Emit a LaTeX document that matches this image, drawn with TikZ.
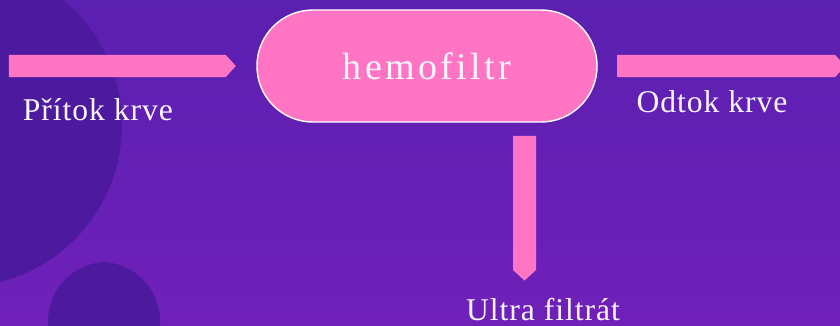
\documentclass[tikz,border=0pt]{standalone}
\usepackage{fontspec}
\setmainfont{Liberation Serif}
\usepackage{tikz}
\usetikzlibrary{positioning,shapes.misc,shapes.symbols}
\definecolor{bgtop}{HTML}{5A20B0}
\definecolor{bgbot}{HTML}{7020B9}
\definecolor{blob}{HTML}{4D1A9F}
\definecolor{pink}{HTML}{FF75C3}
\definecolor{txt}{HTML}{FAF5FF}

\begin{document}
\begin{tikzpicture}[x=0.025cm,y=0.025cm]
    \tikzset{
      pill/.style={rounded rectangle,draw=white,line width=1pt,fill=pink,minimum width=8.5cm,minimum height=2.8cm,inner sep=0pt,font=\fontsize{27}{30}\selectfont\addfontfeatures{LetterSpace=9},text=txt},
      flow/.style={signal,fill=pink,draw=none,inner sep=0pt,signal pointer angle=95},
      label/.style={anchor=base,text=txt,inner sep=0pt,font=\fontsize{22.5}{26}\selectfont\addfontfeatures{LetterSpace=3}}
    }
    % background
    \begin{scope}
      \clip (0,0) rectangle (840,325);
      \shade[top color=bgtop,bottom color=bgbot] (0,0) rectangle (840,325);
      \fill[blob] (-40,200) circle[radius=162];
      \fill[blob,rounded corners=42] (48,-60) rectangle (160,63);
    \end{scope}
    \useasboundingbox (0,0) rectangle (840,325);
    \node[pill] (filtr) at (427,259) {hemofiltr};
    \node[flow,signal to=east,minimum width=5.675cm,minimum height=0.55cm,left=0.5cm of filtr] (inflow) {};
    \node[flow,signal to=east,minimum width=5.7cm,minimum height=0.55cm,right=0.48cm of filtr] (outflow) {};
    \node[flow,signal to=south,minimum width=0.575cm,minimum height=3.35cm] (ultra) at (524.5,122) {};
    \node[label] (inlabel) at (98,205) {Přítok krve};
    \node[label] (outlabel) at (712,213) {Odtok krve};
    \node[label] (ultralabel) at (543,5) {Ultra filtrát};
  \end{tikzpicture}
\end{document}
